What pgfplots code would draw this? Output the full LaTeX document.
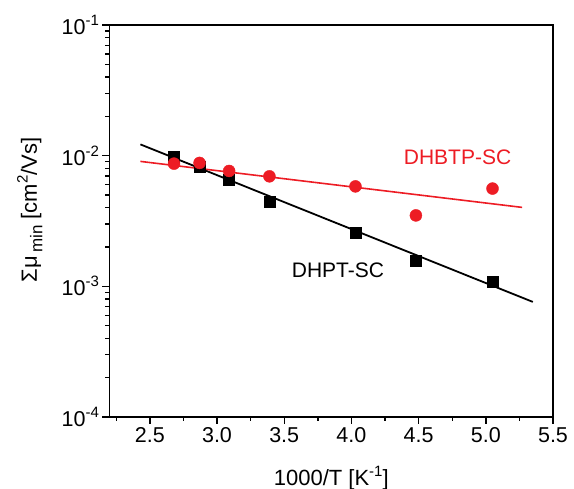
\documentclass[border=0pt]{standalone}
\usepackage{fontspec}
\setmainfont{Liberation Sans}
\usepackage{pgfplots}
\pgfplotsset{compat=1.18}
\definecolor{myred}{RGB}{237,28,36}
\newcommand{\sups}[1]{\raisebox{0.42em}{\fontsize{15}{15}\selectfont #1}}
\begin{document}
\begin{tikzpicture}
\begin{axis}[
  scale only axis, width=443.5pt, height=392pt,
  ymode=log, xmin=2.2, xmax=5.5, ymin=1e-4, ymax=1e-1,
  xtick={2.5,3.0,...,5.5}, minor xtick={2.25,2.75,...,5.25},
  xticklabels={2.5,3.0,3.5,4.0,4.5,5.0,5.5},
  ytick={1e-4,1e-3,1e-2,1e-1},
  yticklabels={10\sups{-4},10\sups{-3},10\sups{-2},10\sups{-1}},
  tick align=outside, xtick pos=bottom, ytick pos=left,
  major tick length=7pt, minor tick length=4pt,
  every tick/.style={line width=1.4pt, black},
  axis line style={line width=1.8pt},
  tick label style={font=\fontsize{21.5}{24}\selectfont},
  label style={font=\fontsize{22}{26}\selectfont},
  xlabel={1000/T [K\sups{-1}]},
  ylabel={Σμ\,\raisebox{-0.25em}{\fontsize{17}{17}\selectfont min} [cm\sups{2}/Vs]},
  xlabel style={at={(axis description cs:0.5,-0.156)}, anchor=center},
  ylabel style={at={(axis description cs:-0.18,0.528)}, anchor=center},
  clip=false,
]
\addplot[black, line width=1.8pt] coordinates {(2.43,0.0122) (5.35,7.6e-4)};
\addplot[myred, line width=1.6pt] coordinates {(2.43,0.00904) (5.27,0.00402)};
\addplot[only marks, mark=square*, mark size=5.5pt, black] coordinates {
 (2.68,0.0099) (2.868,0.00828) (3.09,0.00654) (3.39,0.00447) (4.03,0.00258) (4.48,0.00158) (5.05,0.00109)};
\addplot[only marks, mark=*, mark size=6pt, myred, mark options={draw=myred, fill=myred}] coordinates {
 (2.68,0.00869) (2.87,0.0088) (3.09,0.00764) (3.39,0.00695) (4.03,0.00582) (4.48,0.00349) (5.05,0.0056)};
\node[font=\fontsize{21}{24}\selectfont, text=myred] at (axis cs:4.79,0.0098) {DHBTP-SC};
\node[font=\fontsize{21}{24}\selectfont] at (axis cs:3.90,0.00132) {DHPT-SC};
\end{axis}
\pgfresetboundingbox
\path (current axis.south west) ++(-109.5pt,-72pt) rectangle ++(574pt,489pt);
\end{tikzpicture}
\end{document}
